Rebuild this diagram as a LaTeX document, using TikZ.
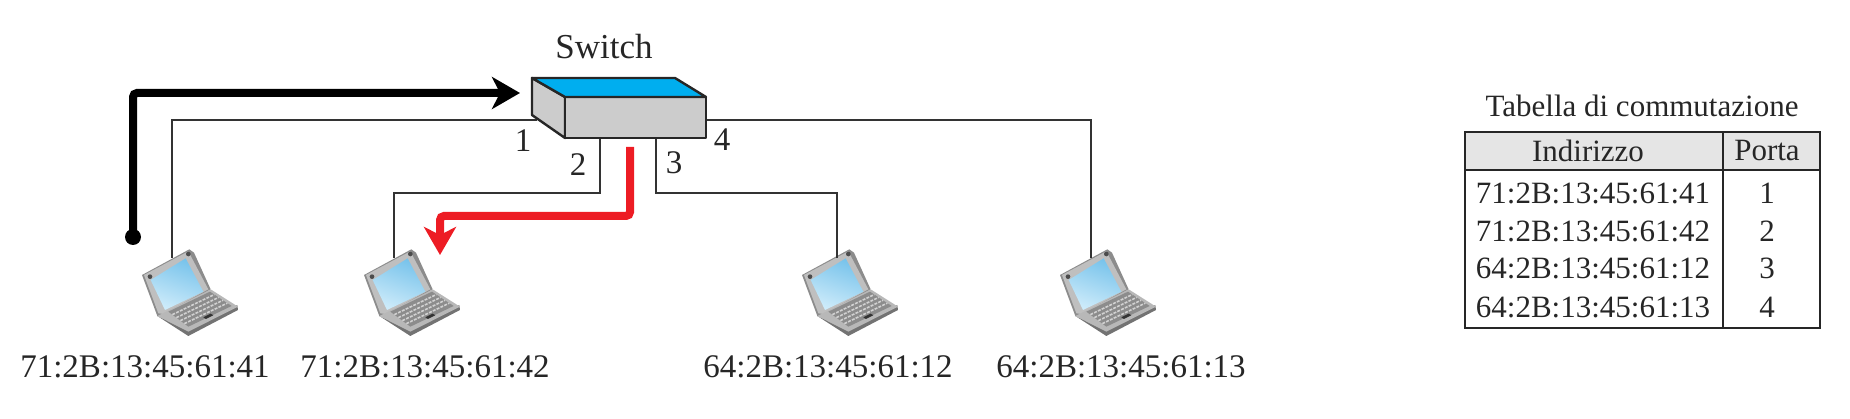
\documentclass[tikz,border=0pt]{standalone}
\usepackage{fontspec}
\setmainfont{Liberation Serif}
\usetikzlibrary{arrows.meta,calc}
\definecolor{swblue}{RGB}{0,174,239}
\definecolor{arrred}{RGB}{237,28,36}
\definecolor{scrtop}{RGB}{120,195,235}
\definecolor{scrbot}{RGB}{205,235,250}
\tikzset{
 lab/.style={inner sep=0pt,text=black!85,font=\fontsize{33}{36}\selectfont},
 tlab/.style={inner sep=0pt,text=black!85,font=\fontsize{31}{34}\selectfont},
 wire/.style={draw=black!80,line width=2.2pt},
 bigarrow/.style={line width=8pt,rounded corners=4pt,-{Stealth[length=28pt,width=32pt,inset=8pt]}},
 swedge/.style={draw=black!85,line width=2.4pt,line join=round},
 anchorbox/.style={minimum width=2pt,minimum height=2pt,inner sep=0pt,outer sep=0pt},
 laptop/.pic={
  \begin{scope}[x=0.3333pt,y=-0.3333pt,line join=round]
   % lid
   \fill[black!45] (66,135) -- (208,58) -- (222,68) -- (272,178) -- (135,262) -- (112,258) -- cycle;
   \fill[black!25] (72,135) -- (205,64) -- (265,178) -- (130,252) -- (115,250) -- cycle;
   \shade[top color=scrtop,bottom color=scrbot,shading angle=-20]
     (92,150) -- (197,85) -- (250,185) -- (135,240) -- cycle;
   % base
   \fill[black!55] (112,258) -- (205,318) -- (354,240) -- (352,225) -- (205,300) -- cycle;
   \fill[black!28] (112,258) -- (272,178) -- (354,230) -- (205,305) -- cycle;
   \fill[black!45] (145,245) -- (270,185) -- (335,228) -- (205,290) -- cycle;
   \foreach \t in {0.2,0.4,0.6,0.8}{
    \draw[black!18,line width=1.6pt,dash pattern=on 3pt off 1.2pt]
      ($(145,245)!\t!(205,290)$) -- ($(270,185)!\t!(335,228)$);
   }
   \fill[black!80] (250,262) -- (272,251) -- (280,256) -- (258,267) -- cycle;
   \fill[black!70] (90,140) circle (7) (205,72) circle (7);
  \end{scope}
 }
}
\begin{document}
\begin{tikzpicture}[x=1pt,y=-1pt]
\useasboundingbox (0,0) rectangle (1850,419);
% laptops
\foreach \n/\dx/\wx in {1/0/0,2/222/222,3/660/665,4/918/919}{
 \pic at (120+\dx,230) {laptop};
 \node[anchorbox] (l\n) at (172+\wx,259) {};
}
% switch
\coordinate (a) at (532,78);
\coordinate (b) at (675,78);
\coordinate (c) at (706,97);
\coordinate (d) at (565,97);
\coordinate (e) at (532,115);
\coordinate (f) at (565,138);
\coordinate (g) at (706,138);
% port attachment points
\coordinate (p1) at (537,120);
\coordinate (p2) at (600,138);
\coordinate (p3) at (656,138);
\coordinate (p4) at (706,120);
\coordinate (q2) at (600,193);
\coordinate (q3) at (656,193);
% wires
\draw[wire] (p1) -| (l1.north);
\draw[wire] (p2) -- (q2) -| (l2.north);
\draw[wire] (p3) -- (q3) -| (l3.north);
\draw[wire] (p4) -| (l4.north);
% switch body
\filldraw[swedge,fill=black!20] (a) -- (d) -- (f) -- (e) -- cycle;
\filldraw[swedge,fill=black!20] (d) -- (c) -- (g) -- (f) -- cycle;
\filldraw[swedge,fill=swblue] (a) -- (b) -- (c) -- (d) -- cycle;
% moving frame arrows
\coordinate (bs) at (133,237);
\coordinate (be) at (520,93);
\coordinate (rs) at (630,147);
\coordinate (rm) at (630,216);
\coordinate (re) at (440,255);
\fill[black] (bs) circle (8);
\draw[bigarrow,black] (bs) |- (be);
\draw[bigarrow,arrred] (rs) -- (rm) -| (re);
% labels
\node[lab,font=\fontsize{35}{38}\selectfont] (tsw) at (604,47) {Switch};
\node[lab] (n1) at (523,141) {1};
\node[lab] (n2) at (578,165) {2};
\node[lab] (n3) at (674,163) {3};
\node[lab] (n4) at (722,140) {4};
\node[lab] (m1) at (145,367) {71:2B:13:45:61:41};
\node[lab] (m2) at (425,367) {71:2B:13:45:61:42};
\node[lab] (m3) at (828,367) {64:2B:13:45:61:12};
\node[lab] (m4) at (1121,367) {64:2B:13:45:61:13};
% table
\fill[black!10] (1465,132) rectangle (1820,170);
\draw[black!85,line width=2.6pt] (1465,132) rectangle (1820,328);
\draw[black!85,line width=2.6pt] (1465,170) -- (1820,170);
\draw[black!85,line width=2.6pt] (1723,132) -- (1723,328);
\node[tlab] (tt) at (1642,106) {Tabella di commutazione};
\node[tlab] (h1) at (1588,151) {Indirizzo};
\node[tlab] (h2) at (1767,151) {Porta};
\foreach \y/\a/\p in {193/71:2B:13:45:61:41/1,231/71:2B:13:45:61:42/2,268/64:2B:13:45:61:12/3,307/64:2B:13:45:61:13/4}{
 \node[tlab] (r\p) at (1593,\y) {\a};
 \node[tlab] (s\p) at (1767,\y) {\p};
}
\end{tikzpicture}
\end{document}
